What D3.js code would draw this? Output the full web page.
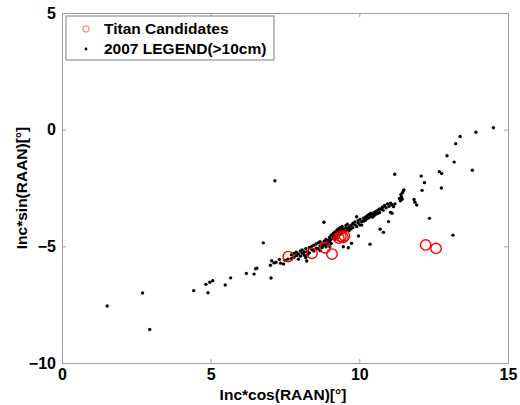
<!DOCTYPE html>
<html>
<head>
<meta charset="utf-8">
<script src="https://cdn.jsdelivr.net/npm/d3@7"></script>
<style>
  body { margin: 0; background: #fff; }
  text { font-family: "Liberation Sans", Arial, sans-serif; font-weight: bold; }
</style>
</head>
<body>
<svg id="chart" width="520" height="405"></svg>
<script>
// Titan candidates (red circles)
var titanX = [7.61, 8.41, 8.85, 9.08, 9.31, 9.38, 9.45, 9.50, 12.23, 12.58]
var titanY = [-5.44, -5.30, -5.06, -5.33, -4.65, -4.58, -4.62, -4.55, -4.94, -5.09]

// 2007 LEGEND (>10cm) objects (black dots)
var legendX = [
  // left tail
  1.52, 2.71, 2.95, 4.43, 4.84, 4.97, 5.07, 4.91, 5.49, 5.67, 6.20, 6.46, 6.51, 7.01, 7.13, 7.03, 7.31, 6.55, 7.05, 7.20, 7.35, 7.45, 7.50, 7.60, 7.16, 6.77,
  // band 7.7 - 8.6
  7.72, 7.72, 7.80, 7.80, 7.88, 7.88, 7.95, 7.95, 8.02, 8.02, 8.08, 8.08, 8.15, 8.15, 8.20, 8.20, 8.26, 8.26, 8.32, 8.32, 8.40, 8.40, 8.47, 8.47, 8.55, 8.55, 8.23,
  // band 8.6 - 9.6
  8.62, 8.62, 8.68, 8.68, 8.68, 8.75, 8.75, 8.82, 8.82, 8.88, 8.88, 8.88, 8.95, 8.95, 9.00, 9.00, 9.05, 9.05, 9.05, 9.12, 9.12,
  9.18, 9.18, 9.18, 9.25, 9.25, 9.25, 9.30, 9.30, 9.30, 9.36, 9.36, 9.36, 9.42, 9.42, 9.42, 9.48, 9.48, 9.55, 9.55, 9.55, 9.60, 9.60,
  9.01, 9.46, 9.63, 9.74, 8.81, 9.97,
  // band 9.6 - 10.8
  9.66, 9.66, 9.72, 9.72, 9.78, 9.78, 9.85, 9.85, 9.91, 9.91, 9.96, 9.96, 10.02, 10.02, 10.08, 10.08, 10.14, 10.14, 10.20, 10.20,
  10.26, 10.26, 10.32, 10.32, 10.38, 10.38, 10.44, 10.44, 10.50, 10.50, 10.56, 10.56, 10.62, 10.62, 10.68, 10.68,
  10.36, 10.70, 10.81, 10.98,
  // 10.7 - 11.5
  11.10, 11.05, 10.78, 10.85, 10.90, 10.95, 11.00, 11.05, 11.10, 11.15, 11.20, 10.80, 10.74, 11.35, 11.40, 11.42, 11.45, 11.48, 11.50, 11.38, 11.44, 11.19,
  // upper right scatter
  11.84, 11.93, 11.87, 12.08, 12.19, 12.11, 12.36, 12.69, 12.77, 12.76, 12.95, 13.19, 13.24, 13.39, 13.80, 13.92, 14.51, 13.15
]
var legendY = [
  -7.56, -7.00, -8.56, -6.90, -6.63, -6.54, -6.47, -6.99, -6.66, -6.35, -6.16, -6.19, -5.96, -5.81, -5.71, -6.36, -5.56, -5.94, -5.62, -5.68, -5.72, -5.76, -5.60, -5.55, -2.19, -4.85,
  -5.52, -5.36, -5.30, -5.47, -5.40, -5.25, -5.55, -5.33, -5.20, -5.42, -5.30, -5.15, -5.38, -5.24, -5.10, -5.48, -5.22, -5.35, -5.05, -5.28, -5.14, -5.00, -5.20, -4.95, -5.08, -4.90, -5.63,
  -5.10, -4.85, -4.98, -4.80, -5.18, -4.90, -5.05, -4.78, -4.95, -4.86, -4.70, -5.02, -4.75, -4.90, -4.62, -4.80, -4.70, -4.52, -4.88, -4.60, -4.45,
  -4.55, -4.38, -4.70, -4.45, -4.30, -4.62, -4.40, -4.55, -4.25, -4.35, -4.48, -4.20, -4.30, -4.42, -4.15, -4.26, -4.38, -4.20, -4.35, -4.10, -4.25, -4.05,
  -5.02, -5.02, -5.06, -4.87, -3.97, -4.56,
  -4.18, -4.32, -4.10, -4.25, -4.02, -4.20, -4.08, -3.95, -3.73, -4.15, -4.00, -3.90, -4.08, -3.85, -3.95, -4.09, -3.80, -3.92, -3.88, -3.75,
  -3.82, -3.70, -3.78, -3.64, -3.70, -3.58, -3.62, -3.75, -3.55, -3.68, -3.50, -3.62, -3.45, -3.58, -3.40, -3.55,
  -4.91, -4.27, -4.40, -3.94,
  -3.58, -3.55, -3.32, -3.25, -3.35, -3.18, -3.28, -3.15, -3.22, -3.30, -3.18, -3.45, -3.40, -2.95, -2.78, -2.88, -2.70, -2.62, -2.58, -3.05, -2.98, -1.91,
  -2.99, -3.23, -3.11, -1.99, -2.27, -2.60, -3.80, -1.80, -1.88, -2.50, -1.12, -1.39, -0.60, -0.29, -1.74, -0.11, 0.08, -4.52
]

var xTicks = [0, 5, 10, 15]
var yTicks = [-10, -5, 0, 5]
var legendLabels = ["Titan Candidates", "2007 LEGEND(>10cm)"]

var margin = { left: 62, right: 12, top: 13, bottom: 42 }
var width = 520, height = 405
var svg = d3.select("#chart")

var xScale = d3.scaleLinear().domain([0, 15]).range([margin.left, width - margin.right])
var yScale = d3.scaleLinear().domain([-10, 5]).range([height - margin.bottom, margin.top])

var boxColor = "#a0a0a0"

// axes box with inward ticks
var g = svg.append("g")
g.append("g").attr("transform", "translate(0," + yScale(-10) + ")")
  .call(d3.axisBottom(xScale).tickValues(xTicks).tickSizeInner(-4).tickSizeOuter(0).tickPadding(6))
g.append("g").attr("transform", "translate(0," + yScale(5) + ")")
  .call(d3.axisTop(xScale).tickValues(xTicks).tickSizeInner(-4).tickSizeOuter(0).tickFormat(""))
g.append("g").attr("transform", "translate(" + xScale(0) + ",0)")
  .call(d3.axisLeft(yScale).tickValues(yTicks).tickSizeInner(-4).tickSizeOuter(0).tickPadding(6))
g.append("g").attr("transform", "translate(" + xScale(15) + ",0)")
  .call(d3.axisRight(yScale).tickValues(yTicks).tickSizeInner(-4).tickSizeOuter(0).tickFormat(""))
g.selectAll(".domain").attr("stroke", boxColor)
g.selectAll(".tick line").attr("stroke", boxColor)
g.selectAll(".tick text").attr("fill", "#000").style("font-size", "16px").style("font-weight", "bold")
  .style("font-family", "'Liberation Sans', Arial, sans-serif")

// black dots
var pts = legendX.map((x, i) => ({ x: x, y: legendY[i] }))
svg.append("g").selectAll("circle").data(pts).join("circle")
  .attr("cx", d => xScale(d.x)).attr("cy", d => yScale(d.y)).attr("r", 1.7).attr("fill", "#000")

// titan candidates
var titan = titanX.map((x, i) => ({ x: x, y: titanY[i] }))
svg.append("g").selectAll("circle").data(titan).join("circle")
  .attr("cx", d => xScale(d.x)).attr("cy", d => yScale(d.y)).attr("r", 5.2)
  .attr("fill", "none").attr("stroke", "#ff0000").attr("stroke-width", 1.4)

// axis labels
svg.append("text").attr("x", (xScale(0) + xScale(15)) / 2 - 2).attr("y", 400)
  .attr("text-anchor", "middle").style("font-size", "15.5px").text("Inc*cos(RAAN)[°]")
svg.append("text").attr("transform", "translate(27," + (yScale(-10) + yScale(5)) / 2 + ") rotate(-90)")
  .attr("text-anchor", "middle").style("font-size", "15.5px").text("Inc*sin(RAAN)[°]")

// legend
var lg = svg.append("g").attr("transform", "translate(66,16)")
lg.append("rect").attr("width", 208).attr("height", 44).attr("fill", "#fff").attr("stroke", "#808080").attr("stroke-width", 1)
lg.append("circle").attr("cx", 20).attr("cy", 13).attr("r", 3.2).attr("fill", "none").attr("stroke", "#ff6666").attr("stroke-width", 1)
lg.append("circle").attr("cx", 20).attr("cy", 33).attr("r", 1.4).attr("fill", "#000")
lg.selectAll(".lgtext").data(legendLabels).join("text").attr("class", "lgtext")
  .attr("x", 38).attr("y", (d, i) => 13 + i * 20).attr("dy", "0.35em")
  .style("font-size", "15.5px").text(d => d)
</script>
</body>
</html>
